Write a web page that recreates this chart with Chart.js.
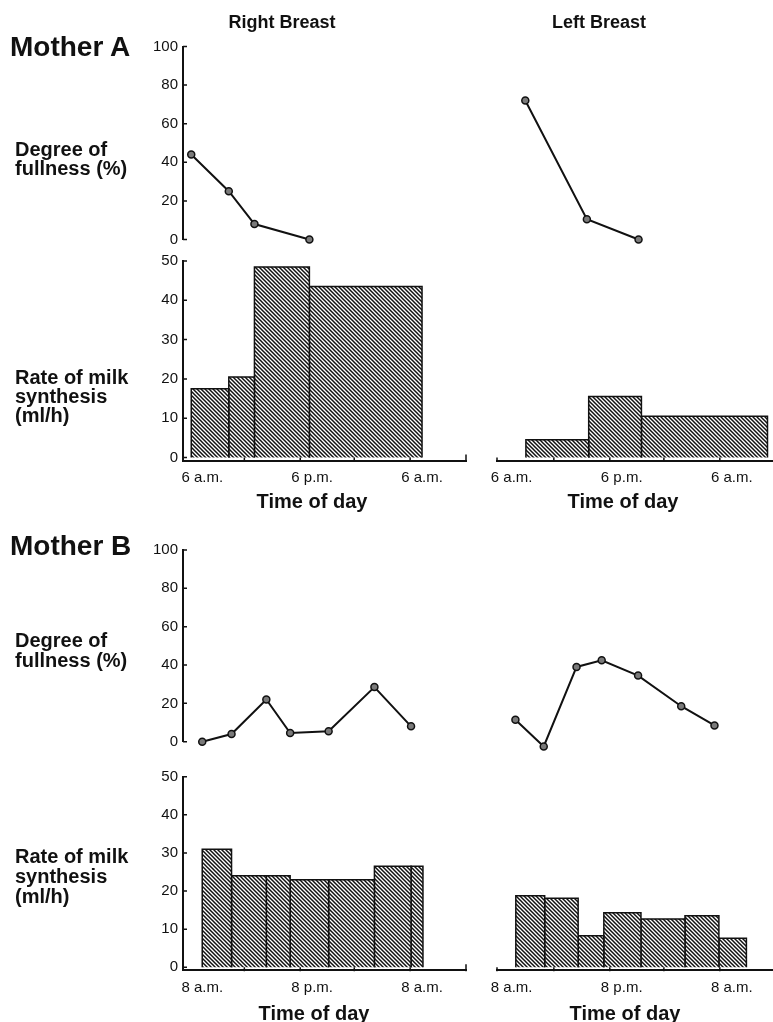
<!DOCTYPE html>
<html>
<head>
<meta charset="utf-8">
<title>Degree of fullness and rate of milk synthesis</title>
<script src="https://cdn.jsdelivr.net/npm/chart.js@4.4.1/dist/chart.umd.min.js"></script>
<style>
  html, body { margin: 0; padding: 0; background: #fff; }
  #fig { position: relative; width: 773px; height: 1022px; overflow: hidden;
         font-family: 'Liberation Sans', Arial, Helvetica, sans-serif; color: #111; }
  #fig canvas { position: absolute; left: 0; top: 0; }
  .t { position: absolute; white-space: nowrap; font-weight: bold; line-height: 1; }
</style>
</head>
<body>
<div id="fig"></div>
<script>
// ---- axis labels ----
const timeLabelsA = ['6 a.m.', '6 p.m.', '6 a.m.'];
const timeLabelsB = ['8 a.m.', '8 p.m.', '8 a.m.'];
const labelHours = [0, 12, 24];              // hours after the first labelled time
const minorTickHours = [4.6, 10.7, 16.6, 22.7];

// ---- Mother A (hours after 6 a.m.) ----
const aRightHours = [-1.2, 2.9, 5.7, 11.7];
const aRightFullness = [44, 25, 8, 0];
const aRightRates = [17.5, 20.5, 48.5, 43.5];
const aRightEndHour = 24.0;

const aLeftHours = [1.55, 8.4, 14.15];
const aLeftFullness = [72, 10.5, 0];
const aLeftRates = [4.5, 15.5, 10.5];
const aLeftEndHour = 27.9;

// ---- Mother B (hours after 8 a.m.) ----
const bRightHours = [0, 3.2, 7.0, 9.6, 13.8, 18.8, 22.8];
const bRightFullness = [0, 4, 22, 4.5, 5.5, 28.5, 8];
const bRightRates = [31, 24, 24, 23, 23, 26.5, 26.5];
const bRightEndHour = 24.1;

const bLeftHours = [0.45, 3.6, 7.25, 10.05, 14.1, 18.9, 22.6];
const bLeftFullness = [11.5, -2.5, 39, 42.5, 34.5, 18.5, 8.5];
const bLeftRates = [18.8, 18.1, 8.3, 14.3, 12.7, 13.5, 7.6];
const bLeftEndHour = 25.6;

// ---- figure geometry ----
const W = 773, H = 1022;
const Y_AXIS_W = 40, X_AXIS_H = 30;
const COLS = {
  right: { left: 183, right: 466, min: -2.1, max: 28.8 },
  left:  { left: 497, right: 773, min: -1.6, max: 28.5 }
};
const ROWS = {
  A: { fullTop: 46.5, fullBottom: 239.5, rateTop: 261, rateBottom: 460.5 },
  B: { fullTop: 550, fullBottom: 741.7, rateTop: 776.7, rateBottom: 970.2 }
};
const INK = '#111';

Chart.defaults.font.family = "'Liberation Sans', Arial, Helvetica, sans-serif";
Chart.defaults.color = INK;

const fig = document.getElementById('fig');

// diagonal hatching for the synthesis bars
function makeHatch() {
  const s = 4;
  const c = document.createElement('canvas');
  c.width = s; c.height = s;
  const g = c.getContext('2d');
  g.fillStyle = '#fff';
  g.fillRect(0, 0, s, s);
  g.strokeStyle = INK;
  g.lineWidth = 1.5;
  g.beginPath();
  g.moveTo(0, 0); g.lineTo(s, s);
  g.moveTo(-1, s - 1); g.lineTo(1, s + 1);
  g.moveTo(s - 1, -1); g.lineTo(s + 1, 1);
  g.stroke();
  return g.createPattern(c, 'repeat');
}
const hatch = makeHatch();

// small tick marks drawn on the inner side of the axes
const inwardTicks = {
  id: 'inwardTicks',
  afterDraw(chart, args, opts) {
    const { ctx, chartArea } = chart;
    ctx.save();
    ctx.strokeStyle = INK;
    ctx.lineWidth = 1.5;
    ctx.beginPath();
    if (opts.yLen && chart.scales.y.options.display) {
      const s = chart.scales.y;
      s.ticks.forEach(t => {
        const y = s.getPixelForValue(t.value);
        ctx.moveTo(chartArea.left, y);
        ctx.lineTo(chartArea.left + opts.yLen, y);
      });
    }
    if (opts.xMarks && chart.scales.x.options.display) {
      const s = chart.scales.x;
      const base = s.top + 1;
      opts.xMarks.forEach(m => {
        const x = s.getPixelForValue(m.value);
        ctx.moveTo(x, base);
        ctx.lineTo(x, base - m.len);
      });
    }
    ctx.stroke();
    ctx.restore();
  }
};

function fullnessDataset(hours, values) {
  return {
    data: hours.map((h, i) => ({ x: h, y: values[i] })),
    borderColor: INK,
    borderWidth: 2,
    pointRadius: 3.5,
    pointBackgroundColor: '#7a7a7a',
    pointBorderColor: INK,
    pointBorderWidth: 1.5,
    tension: 0,
    fill: false,
    clip: false
  };
}

// one outlined, hatched rectangle per interval between samples
function rateDatasets(hours, endHour, rates) {
  return rates.map((r, i) => {
    const x0 = hours[i];
    const x1 = i + 1 < hours.length ? hours[i + 1] : endHour;
    return {
      data: [{ x: x0, y: 0 }, { x: x0, y: r }, { x: x1, y: r }, { x: x1, y: 0 }],
      borderColor: INK,
      borderWidth: 1.5,
      backgroundColor: hatch,
      fill: 'origin',
      pointRadius: 0,
      tension: 0
    };
  });
}

function panel(cfg) {
  const col = COLS[cfg.col];
  const showY = cfg.col === 'right';
  const showX = !!cfg.showX;
  const canvas = document.createElement('canvas');
  canvas.width = W; canvas.height = H;
  fig.appendChild(canvas);

  const xMarks = showX
    ? minorTickHours.map(v => ({ value: v, len: 4 }))
        .concat(cfg.col === 'right' ? [{ value: col.max, len: 7 }] : [{ value: col.min, len: 4 }])
    : null;

  new Chart(canvas, {
    type: 'line',
    data: { datasets: cfg.datasets },
    options: {
      responsive: false,
      animation: false,
      events: [],
      layout: {
        padding: {
          left: showY ? col.left - Y_AXIS_W : col.left,
          right: W - col.right,
          top: cfg.top,
          bottom: H - cfg.bottom - (showX ? X_AXIS_H : 0)
        }
      },
      plugins: {
        legend: { display: false },
        tooltip: { enabled: false },
        inwardTicks: { yLen: 4, xMarks: xMarks }
      },
      scales: {
        x: {
          type: 'linear',
          min: col.min,
          max: col.max,
          display: showX,
          border: { display: true, color: INK, width: 2 },
          grid: { display: false, drawTicks: false },
          afterBuildTicks: s => { s.ticks = labelHours.map(v => ({ value: v })); },
          afterFit: s => { s.height = showX ? X_AXIS_H : 0; },
          ticks: {
            autoSkip: false,
            maxRotation: 0,
            padding: 8.5,
            font: { size: 15 },
            color: INK,
            callback: (v, i) => cfg.xLabels ? cfg.xLabels[i] : ''
          }
        },
        y: {
          type: 'linear',
          position: 'left',
          min: cfg.yMin,
          max: cfg.yMax,
          display: showY,
          border: { display: true, color: INK, width: 2 },
          grid: { display: false, drawTicks: false },
          afterFit: s => { s.width = showY ? Y_AXIS_W : 0; },
          ticks: {
            stepSize: 10,
            includeBounds: false,
            padding: 5,
            font: { size: 15 },
            color: INK,
            callback: v => (v % cfg.labelEvery === 0 ? String(v) : '')
          }
        }
      }
    },
    plugins: [inwardTicks]
  });
}

// Mother A
panel({ col: 'right', top: ROWS.A.fullTop, bottom: ROWS.A.fullBottom, yMin: 0, yMax: 100, labelEvery: 20,
        datasets: [fullnessDataset(aRightHours, aRightFullness)] });
panel({ col: 'left', top: ROWS.A.fullTop, bottom: ROWS.A.fullBottom, yMin: 0, yMax: 100, labelEvery: 20,
        datasets: [fullnessDataset(aLeftHours, aLeftFullness)] });
panel({ col: 'right', top: ROWS.A.rateTop, bottom: ROWS.A.rateBottom, yMin: -0.75, yMax: 50, labelEvery: 10,
        showX: true, xLabels: timeLabelsA, datasets: rateDatasets(aRightHours, aRightEndHour, aRightRates) });
panel({ col: 'left', top: ROWS.A.rateTop, bottom: ROWS.A.rateBottom, yMin: -0.75, yMax: 50, labelEvery: 10,
        showX: true, xLabels: timeLabelsA, datasets: rateDatasets(aLeftHours, aLeftEndHour, aLeftRates) });

// Mother B
panel({ col: 'right', top: ROWS.B.fullTop, bottom: ROWS.B.fullBottom, yMin: 0, yMax: 100, labelEvery: 20,
        datasets: [fullnessDataset(bRightHours, bRightFullness)] });
panel({ col: 'left', top: ROWS.B.fullTop, bottom: ROWS.B.fullBottom, yMin: 0, yMax: 100, labelEvery: 20,
        datasets: [fullnessDataset(bLeftHours, bLeftFullness)] });
panel({ col: 'right', top: ROWS.B.rateTop, bottom: ROWS.B.rateBottom, yMin: -0.75, yMax: 50, labelEvery: 10,
        showX: true, xLabels: timeLabelsB, datasets: rateDatasets(bRightHours, bRightEndHour, bRightRates) });
panel({ col: 'left', top: ROWS.B.rateTop, bottom: ROWS.B.rateBottom, yMin: -0.75, yMax: 50, labelEvery: 10,
        showX: true, xLabels: timeLabelsB, datasets: rateDatasets(bLeftHours, bLeftEndHour, bLeftRates) });

// ---- text ----
function text(str, x, y, size, align) {
  const d = document.createElement('div');
  d.className = 't';
  d.textContent = str;
  d.style.fontSize = size + 'px';
  d.style.left = x + 'px';
  d.style.top = y + 'px';
  d.style.transform = align === 'center' ? 'translate(-50%, -50%)' : 'translate(0, -50%)';
  fig.appendChild(d);
}
text('Right Breast', 282, 22, 18, 'center');
text('Left Breast', 599, 22, 18, 'center');

text('Mother A', 10, 47, 28);
text('Degree of', 15, 149, 20);
text('fullness (%)', 15, 168, 20);
text('Rate of milk', 15, 377, 20);
text('synthesis', 15, 396, 20);
text('(ml/h)', 15, 415, 20);
text('Time of day', 312, 501, 20, 'center');
text('Time of day', 623, 501, 20, 'center');

text('Mother B', 10, 546, 28);
text('Degree of', 15, 640, 20);
text('fullness (%)', 15, 660, 20);
text('Rate of milk', 15, 856, 20);
text('synthesis', 15, 876, 20);
text('(ml/h)', 15, 896, 20);
text('Time of day', 314, 1013, 20, 'center');
text('Time of day', 625, 1013, 20, 'center');
</script>
</body>
</html>
